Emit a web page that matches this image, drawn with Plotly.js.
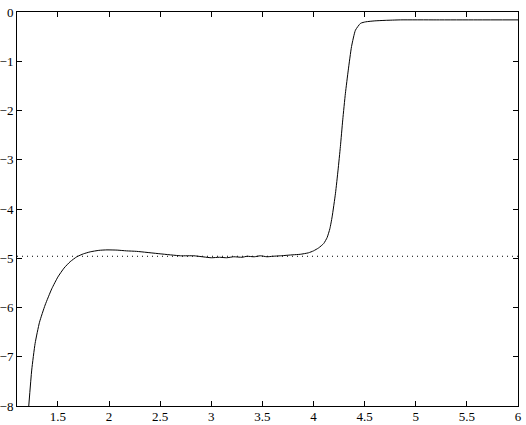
<!DOCTYPE html>
<html>
<head>
<meta charset="utf-8">
<script src="https://cdn.plot.ly/plotly-3.0.1.min.js"></script>
<style>
  html, body { margin: 0; padding: 0; background: #fff; }
  #chart { width: 526px; height: 425px; }
</style>
</head>
<body>
<div id="chart"></div>
<script>
// curve
let xVals = [1.215, 1.244, 1.277, 1.32, 1.375, 1.44, 1.5, 1.56, 1.62, 1.685, 1.75, 1.816, 1.9, 1.98, 2.08, 2.17, 2.27, 2.5,
    2.7, 2.83, 3.0, 3.08, 3.15, 3.22, 3.3, 3.35, 3.42, 3.48, 3.545, 3.6, 3.68, 3.8, 3.87, 3.95, 4.0, 4.05, 4.1,
    4.133, 4.16, 4.182, 4.215, 4.24, 4.263, 4.286, 4.312, 4.34, 4.372, 4.41, 4.46, 4.51, 4.6, 4.7, 4.85, 5.2, 5.6, 6.0]
let yVals = [-8, -7.27, -6.73, -6.3, -5.95, -5.62, -5.38, -5.2, -5.07, -4.97, -4.91, -4.87, -4.84, -4.83, -4.835, -4.85, -4.86, -4.91,
    -4.95, -4.95, -4.99, -4.98, -4.99, -4.97, -4.98, -4.96, -4.97, -4.95, -4.97, -4.96, -4.95, -4.93, -4.92, -4.89, -4.85, -4.79, -4.7,
    -4.58, -4.4, -4.16, -3.68, -3.21, -2.73, -2.19, -1.65, -1.18, -0.7, -0.37, -0.23, -0.2, -0.18, -0.17, -0.16, -0.16, -0.16, -0.16]

let refLevel = -4.96
let xRange = [1.1, 6]
let xTicks = [1.5, 2, 2.5, 3, 3.5, 4, 4.5, 5, 5.5, 6]
let yTicks = [0, -1, -2, -3, -4, -5, -6, -7, -8]

let curve = {
    x: xVals,
    y: yVals,
    mode: 'lines',
    type: 'scatter',
    line: { color: '#000', width: 1, shape: 'spline', smoothing: 0.5 },
    hoverinfo: 'none'
}
let refLine = {
    x: xRange,
    y: [refLevel, refLevel],
    mode: 'lines',
    type: 'scatter',
    line: { color: '#000', width: 1, dash: '1px,4px' },
    hoverinfo: 'none'
}

let axisStyle = {
    showline: true,
    linecolor: '#000',
    linewidth: 1,
    mirror: 'ticks',
    ticks: 'inside',
    ticklen: 5,
    tickcolor: '#000',
    showgrid: false,
    zeroline: false,
    tickfont: { family: 'Liberation Serif', size: 13, color: '#000' }
}

let layout = {
    width: 526,
    height: 425,
    showlegend: false,
    paper_bgcolor: '#fff',
    plot_bgcolor: '#fff',
    margin: { l: 17, r: 8, t: 12, b: 19 },
    xaxis: Object.assign({}, axisStyle, { range: xRange, tickvals: xTicks, ticktext: xTicks.map(String), ticklabelstandoff: -2 }),
    yaxis: Object.assign({}, axisStyle, { range: [-8, 0], tickvals: yTicks })
}

Plotly.newPlot('chart', [refLine, curve], layout, { displayModeBar: false, staticPlot: true })
</script>
</body>
</html>
